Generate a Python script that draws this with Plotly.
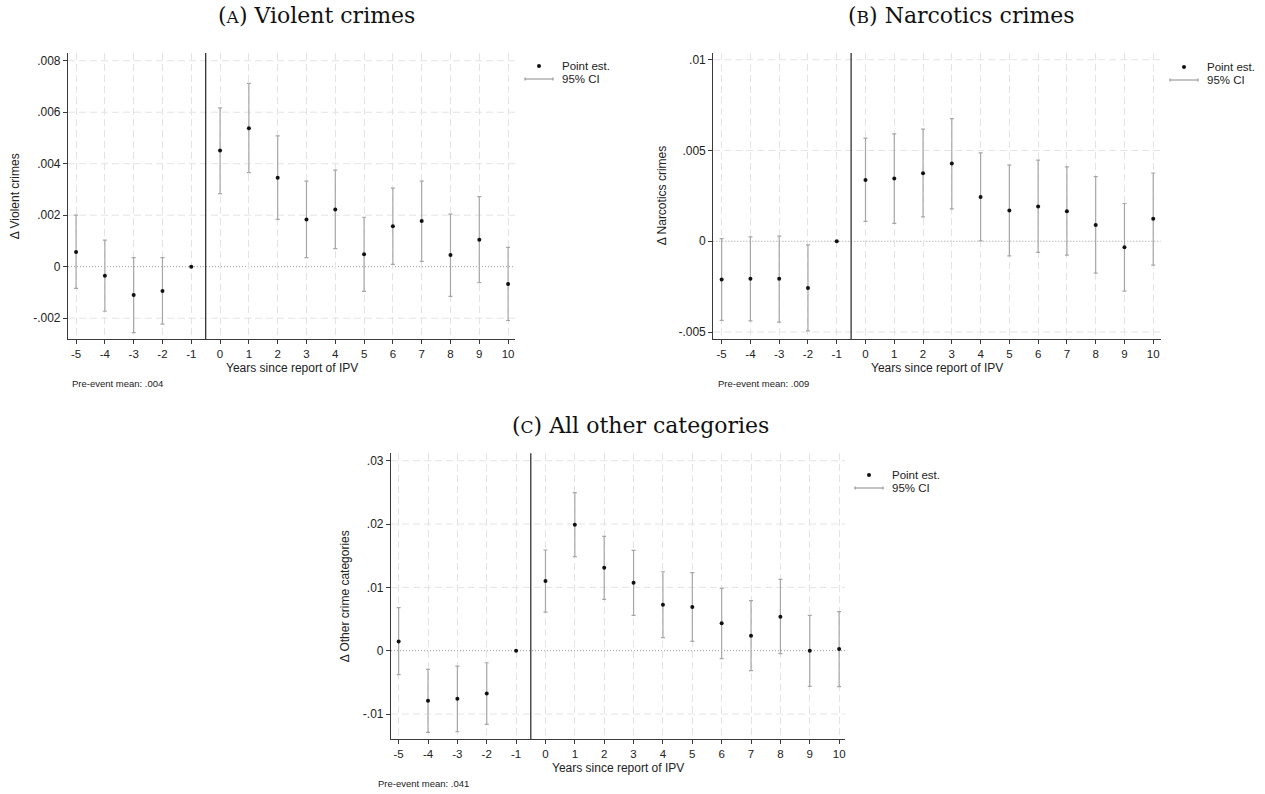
import plotly.graph_objects as go

W, H = 1265, 794

years = list(range(-5, 11))
year_labels = [str(y) for y in years]

# Panel A: Violent crimes
a_est = [0.00057, -0.00035, -0.0011, -0.00094, 0.0, 0.00451, 0.00538, 0.00345, 0.00183, 0.00222,
         0.00048, 0.00157, 0.00177, 0.00045, 0.00105, -0.00067]
a_lo = [-0.00084, -0.00173, -0.00256, -0.00223, 0.0, 0.00284, 0.00365, 0.00184, 0.00035, 0.0007,
        -0.00096, 0.00009, 0.00021, -0.00115, -0.00062, -0.00209]
a_hi = [0.0020, 0.00103, 0.00035, 0.00035, 0.0, 0.00617, 0.00712, 0.00508, 0.00332, 0.00375,
        0.00192, 0.00305, 0.00332, 0.00204, 0.00272, 0.00075]
a_yticks = [-0.002, 0, 0.002, 0.004, 0.006, 0.008]
a_ylabels = ["-.002", "0", ".002", ".004", ".006", ".008"]

# Panel B: Narcotics crimes
b_est = [-0.0021, -0.00206, -0.00206, -0.00257, 0.0, 0.00338, 0.00346, 0.00375, 0.00428, 0.00244,
         0.00169, 0.00191, 0.00166, 0.00089, -0.00033, 0.00124]
b_lo = [-0.00436, -0.00439, -0.00445, -0.00494, 0.0, 0.0011, 0.00099, 0.00134, 0.00178, 0.00002,
        -0.00081, -0.00061, -0.00076, -0.00175, -0.00275, -0.00131]
b_hi = [0.00015, 0.00024, 0.00028, -0.0002, 0.0, 0.00568, 0.00592, 0.00618, 0.00676, 0.00487,
        0.00419, 0.00447, 0.0041, 0.00356, 0.00208, 0.00376]
b_yticks = [-0.005, 0, 0.005, 0.01]
b_ylabels = ["-.005", "0", ".005", ".01"]

# Panel C: All other categories
c_est = [0.00147, -0.0079, -0.00758, -0.00674, 0.0, 0.011, 0.01989, 0.0131, 0.01074, 0.00726,
         0.0069, 0.00432, 0.00237, 0.00537, 0.0, 0.00026]
c_lo = [-0.00379, -0.0129, -0.0128, -0.01163, 0.0, 0.0061, 0.01484, 0.0081, 0.00558, 0.00205,
        0.00147, -0.00126, -0.00316, -0.00047, -0.00563, -0.00568]
c_hi = [0.00679, -0.00295, -0.00242, -0.0019, 0.0, 0.0159, 0.02495, 0.01805, 0.01584, 0.01247,
        0.01232, 0.00984, 0.0079, 0.01126, 0.00558, 0.00616]
c_yticks = [-0.01, 0, 0.01, 0.02, 0.03]
c_ylabels = ["-.01", "0", ".01", ".02", ".03"]

titles = ["(<span style='font-size:17px'>A</span>) Violent crimes",
          "(<span style='font-size:17px'>B</span>) Narcotics crimes",
          "(<span style='font-size:17px'>C</span>) All other categories"]
ytitles = ["Δ Violent crimes", "Δ Narcotics crimes", "Δ Other crime categories"]
xtitle = "Years since report of IPV"
pre_means = ["Pre-event mean: .004", "Pre-event mean: .009", "Pre-event mean: .041"]
legend_labels = ["Point est.", "95% CI"]


def X(px):
    return px / W


def Y(py):
    return 1 - py / H


panels = [
    dict(box=(68, 515, 53, 339.3), xr=[-5.28, 10.24], yr=[-0.00282, 0.0083],
         est=a_est, lo=a_lo, hi=a_hi, yt=a_yticks, yl=a_ylabels,
         title_xy=(316, 15), ytitle_x=15, leg=(539, 66), pre=(70, 383)),
    dict(box=(713.3, 1160.7, 53, 339.3), xr=[-5.29, 10.26], yr=[-0.0054, 0.01037],
         est=b_est, lo=b_lo, hi=b_hi, yt=b_yticks, yl=b_ylabels,
         title_xy=(961, 15), ytitle_x=662, leg=(1184, 67), pre=(716, 383)),
    dict(box=(391, 845, 453.3, 739.3), xr=[-5.26, 10.2], yr=[-0.01399, 0.03117],
         est=c_est, lo=c_lo, hi=c_hi, yt=c_yticks, yl=c_ylabels,
         title_xy=(640, 425), ytitle_x=345, leg=(869, 475), pre=(376, 783)),
]

fig = go.Figure()
shapes = []
annotations = []
layout = dict(width=W, height=H, margin=dict(l=0, r=0, t=0, b=0),
              paper_bgcolor="white", plot_bgcolor="white", showlegend=False,
              font=dict(family="Liberation Sans, Arial, sans-serif", color="#222"))

axis_col = "#3a3a3a"
grid_col = "#e4e4e4"
bar_col = "#a6a6a6"
grid_dash = "7px,4px"

for i, p in enumerate(panels):
    n = "" if i == 0 else str(i + 1)
    xa, ya = "x" + n, "y" + n
    l, r, t, b = p["box"]
    err_plus = [h - e for h, e in zip(p["hi"], p["est"])]
    err_minus = [e - lo for e, lo in zip(p["est"], p["lo"])]
    fig.add_trace(go.Scatter(
        x=years, y=p["est"], mode="markers", xaxis=xa, yaxis=ya,
        marker=dict(size=4, color="#111"),
        error_y=dict(type="data", symmetric=False, array=err_plus, arrayminus=err_minus,
                     color=bar_col, thickness=1.2, width=2),
    ))
    layout["xaxis" + n] = dict(
        domain=[X(l), X(r)], range=p["xr"], anchor=ya,
        tickvals=years, ticktext=year_labels, ticks="outside", ticklen=4,
        tickcolor=axis_col, tickfont=dict(size=11.5, color="#222"),
        showline=True, linecolor=axis_col, linewidth=1.2,
        showgrid=True, gridcolor=grid_col, griddash=grid_dash, gridwidth=1, zeroline=False,
    )
    layout["yaxis" + n] = dict(
        domain=[Y(b), Y(t)], range=p["yr"], anchor=xa,
        tickvals=p["yt"], ticktext=p["yl"], ticks="outside", ticklen=4,
        tickcolor=axis_col, tickfont=dict(size=12, color="#222"),
        showline=True, linecolor=axis_col, linewidth=1.2,
        showgrid=False, zeroline=False,
    )
    for v in p["yt"]:
        if v != 0:
            shapes.append(dict(type="line", xref=xa + " domain", yref=ya, x0=0, x1=1, y0=v, y1=v,
                               line=dict(color=grid_col, width=1, dash=grid_dash), layer="below"))
    shapes.append(dict(type="line", xref=xa + " domain", yref=ya, x0=0, x1=1, y0=0, y1=0,
                       line=dict(color="#9a9a9a", width=1, dash="1px,2px"), layer="below"))
    shapes.append(dict(type="line", xref=xa, yref=ya + " domain", x0=-0.5, x1=-0.5, y0=0, y1=1,
                       line=dict(color="#333", width=1.3)))
    tx, ty = p["title_xy"]
    annotations.append(dict(text=titles[i], xref="paper", yref="paper", x=X(tx), y=Y(ty),
                            showarrow=False, xanchor="center", yanchor="middle",
                            font=dict(family="DejaVu Serif, serif", size=22, color="#111")))
    annotations.append(dict(text=ytitles[i], xref="paper", yref="paper", x=X(p["ytitle_x"]),
                            y=Y((t + b) / 2), textangle=-90, showarrow=False,
                            xanchor="center", yanchor="middle", font=dict(size=12, color="#222")))
    annotations.append(dict(text=xtitle, xref="paper", yref="paper", x=X((l + r) / 2),
                            y=Y(b + 29), showarrow=False, xanchor="center", yanchor="middle",
                            font=dict(size=12, color="#222")))
    px_, py_ = p["pre"]
    annotations.append(dict(text=pre_means[i], xref="paper", yref="paper", x=X(px_), y=Y(py_),
                            showarrow=False, xanchor="left", yanchor="middle",
                            font=dict(size=9.5, color="#222")))
    lx, ly = p["leg"]
    shapes.append(dict(type="circle", xref="paper", yref="paper",
                       x0=X(lx - 2), x1=X(lx + 2), y0=Y(ly + 2), y1=Y(ly - 2),
                       fillcolor="#111", line=dict(width=0)))
    cy = ly + 13
    shapes.append(dict(type="line", xref="paper", yref="paper", x0=X(lx - 14), x1=X(lx + 14),
                       y0=Y(cy), y1=Y(cy), line=dict(color="#888", width=1)))
    for ex in (lx - 14, lx + 14):
        shapes.append(dict(type="line", xref="paper", yref="paper", x0=X(ex), x1=X(ex),
                           y0=Y(cy - 1.5), y1=Y(cy + 1.5), line=dict(color="#888", width=1)))
    annotations.append(dict(text=legend_labels[0], xref="paper", yref="paper", x=X(lx + 21), y=Y(ly),
                            showarrow=False, xanchor="left", yanchor="middle", font=dict(size=11.5, color="#222")))
    annotations.append(dict(text=legend_labels[1], xref="paper", yref="paper", x=X(lx + 21), y=Y(cy),
                            showarrow=False, xanchor="left", yanchor="middle", font=dict(size=11.5, color="#222")))

layout["shapes"] = shapes
layout["annotations"] = annotations
fig.update_layout(**layout)
fig.write_html("out.html")
